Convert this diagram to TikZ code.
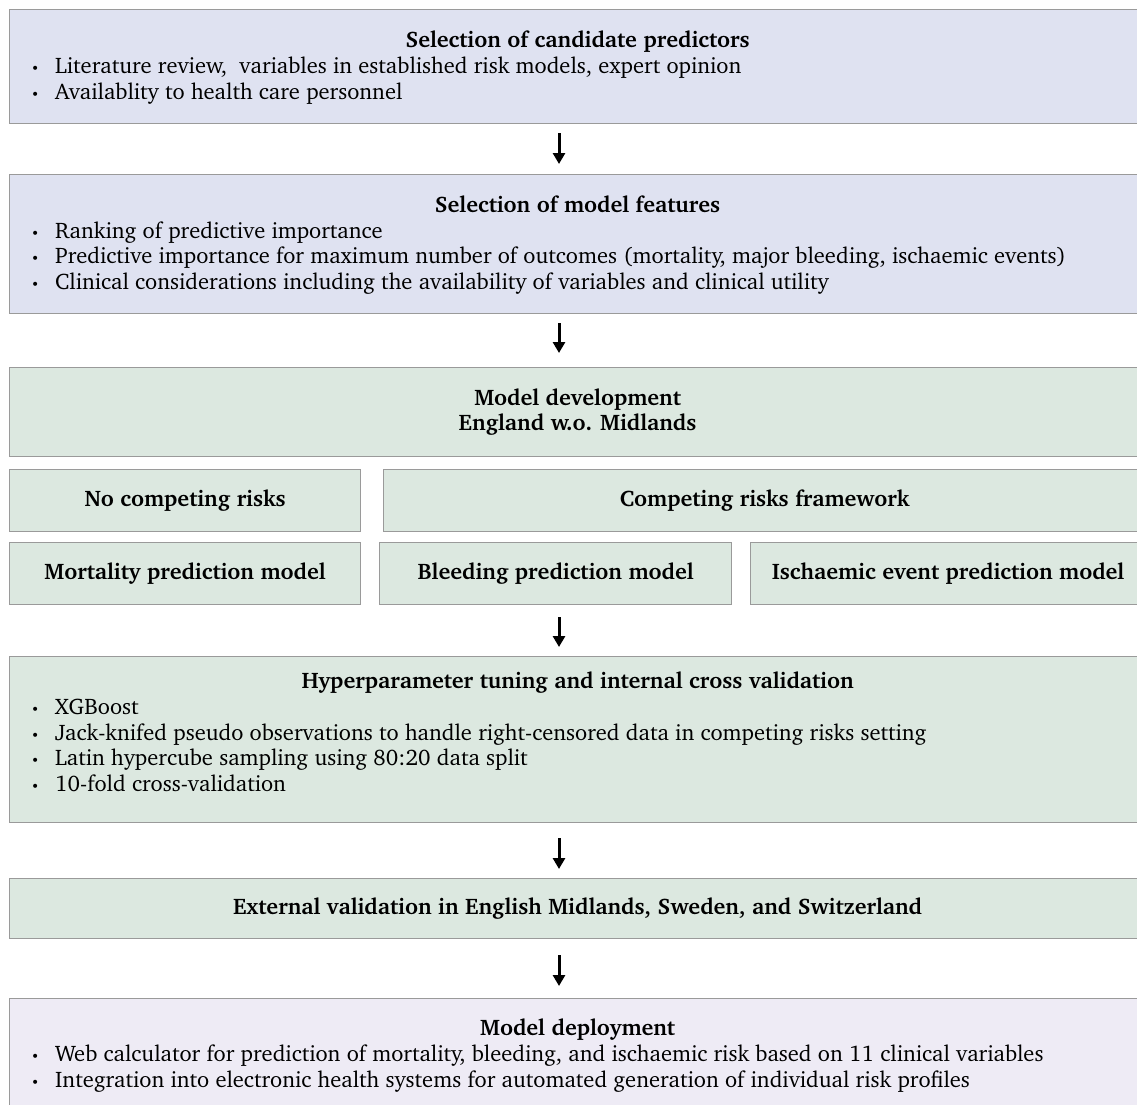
\documentclass[tikz,border=0pt]{standalone}
\usepackage[T1]{fontenc}
\usepackage{charter}
\usepackage{xcolor}
\usetikzlibrary{arrows.meta,calc,positioning}
\definecolor{boxlav}{HTML}{DFE2F1}
\definecolor{boxgreen}{HTML}{DCE8E0}
\definecolor{boxlilac}{HTML}{EEEBF5}
\definecolor{boxline}{HTML}{9A9A9A}
\newcommand{\bul}{\makebox[24pt][l]{\fontsize{14}{14}\selectfont\textbullet}}

\begin{document}
\begin{tikzpicture}[x=1pt,y=-1pt,font=\fontsize{22.5}{25.5}\selectfont,
  stage/.style={draw=boxline,line width=1.2pt,anchor=north west,inner sep=0pt,align=center,font=\fontsize{22.5}{25.5}\selectfont\bfseries},
  ttl/.style={anchor=base,inner sep=0pt,font=\fontsize{22.5}{25.5}\selectfont\bfseries},
  items/.style={anchor=base west,inner sep=0pt,align=left},
  flow/.style={-{Triangle[length=11pt,width=12pt]},line width=3pt}]
\useasboundingbox (0,0) rectangle (1137,1104);
\coordinate (ax) at (559,0);

% candidate predictors
\node[stage,fill=boxlav,minimum width=1136pt,minimum height=114pt] (cand) at (9,9) {};
\node[ttl] (candT) at ([yshift=-38pt]cand.north) {Selection of candidate predictors};
\node[items] (candL) at ([shift={(22pt,-90pt)}]cand.north west) {\bul Literature review,\ \ variables in established risk models, expert opinion\\
\bul Availablity to health care personnel};

% model features
\node[stage,fill=boxlav,minimum width=1136pt,minimum height=139pt] (feat) at (9,174) {};
\node[ttl] (featT) at ([yshift=-38pt]feat.north) {Selection of model features};
\node[items] (featL) at ([shift={(22pt,-115pt)}]feat.north west) {\bul Ranking of predictive importance\\
\bul Predictive importance for maximum number of outcomes (mortality, major bleeding, ischaemic events)\\
\bul Clinical considerations including the availability of variables and clinical utility};

% development
\node[stage,fill=boxgreen,minimum width=1136pt,minimum height=89pt] (dev) at (9,367) {Model development\\England w.o. Midlands};
\node[stage,fill=boxgreen,minimum width=351pt,minimum height=62pt] (nocr) at (9,469) {No competing risks};
\node[stage,fill=boxgreen,minimum width=762pt,minimum height=62pt] (crf) at (383,469) {Competing risks framework};
\node[stage,fill=boxgreen,minimum width=351pt,minimum height=62pt] (mort) at (9,542) {Mortality prediction model};
\node[stage,fill=boxgreen,minimum width=352pt,minimum height=62pt] (bleed) at (379,542) {Bleeding prediction model};
\node[stage,fill=boxgreen,minimum width=395pt,minimum height=62pt] (isch) at (750,542) {Ischaemic event prediction model};

% tuning
\node[stage,fill=boxgreen,minimum width=1136pt,minimum height=166pt] (tune) at (9,656) {};
\node[ttl] (tuneT) at ([yshift=-32pt]tune.north) {Hyperparameter tuning and internal cross validation};
\node[items] (tuneL) at ([shift={(22pt,-135pt)}]tune.north west) {\bul XGBoost\\
\bul Jack-knifed pseudo observations to handle right-censored data in competing risks setting\\
\bul Latin hypercube sampling using 80:20 data split\\
\bul 10-fold cross-validation};

% external validation
\node[stage,fill=boxgreen,minimum width=1136pt,minimum height=60pt] (ext) at (9,878) {External validation in English Midlands, Sweden, and Switzerland};

% deployment
\node[stage,fill=boxlilac,minimum width=1136pt,minimum height=120pt] (depl) at (9,998) {};
\node[ttl] (deplT) at ([yshift=-37pt]depl.north) {Model deployment};
\node[items] (deplL) at ([shift={(22pt,-89pt)}]depl.north west) {\bul Web calculator for prediction of mortality, bleeding, and ischaemic risk based on 11 clinical variables\\
\bul Integration into electronic health systems for automated generation of individual risk profiles};

\draw[flow,shorten <=9pt,shorten >=10pt] (cand.south -| ax) -- (feat.north -| ax);
\draw[flow,shorten <=9pt,shorten >=14pt] (feat.south -| ax) -- (dev.north -| ax);
\draw[flow,shorten <=12pt,shorten >=9pt] (bleed.south -| ax) -- (tune.north -| ax);
\draw[flow,shorten <=15pt,shorten >=9pt] (tune.south -| ax) -- (ext.north -| ax);
\draw[flow,shorten <=16pt,shorten >=12pt] (ext.south -| ax) -- (depl.north -| ax);
\end{tikzpicture}
\end{document}
